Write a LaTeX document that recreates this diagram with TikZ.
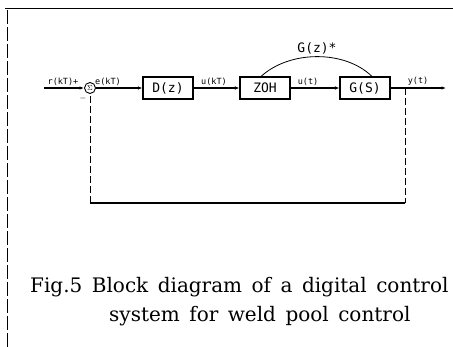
\documentclass[tikz,border=0pt]{standalone}
\usepackage{fontspec}
\setmainfont{DejaVu Serif}
\setmonofont{DejaVu Sans Mono}
\usetikzlibrary{arrows.meta}
% caption type: large serif with wide word spacing
\newcommand\figcapfont{\fontsize{20}{24}\selectfont\spaceskip=9.5pt plus 1pt\relax}
\begin{document}
\begin{tikzpicture}[x=1pt,y=-1pt,
  blk/.style={draw,line width=1.1pt,minimum width=50pt,minimum height=22pt,inner sep=0pt,font=\ttfamily\fontsize{13}{15}\selectfont},
  sig/.style={font=\ttfamily\fontsize{8.5}{10}\selectfont,inner sep=0.5pt},
  wire/.style={line width=1.1pt},
  arr/.style={wire,-{Latex[length=4.5pt,width=3.5pt]}},
  fb/.style={line width=0.8pt,dash pattern=on 7pt off 3pt},
  captext/.style={font=\figcapfont,anchor=base west,inner sep=0pt}]
\useasboundingbox (0,0) rectangle (453,347);
% frame fragments
\draw[line width=0.8pt] (5,8) -- (453,8);
\draw[line width=0.8pt,dash pattern=on 14pt off 3pt] (7,10) -- (7,347);
% blocks
\node[draw,circle,line width=0.9pt,inner sep=0pt,minimum size=11pt,font=\fontsize{7}{8}\selectfont] (sum) at (90,88) {$\Sigma$};
\node[blk] (D) at (168,88) {D(z)};
\node[blk] (zoh) at (265,88) {ZOH};
\node[blk] (G) at (365,88) {G(S)};
\coordinate (in) at (44,88);
\coordinate (out) at (446,88);
\coordinate (tap) at (405,88);
\coordinate (bl) at (90,203);
\coordinate (br) at (405,203);
% forward path
\draw[arr] (in) -- (sum);
\draw[arr] (sum) -- (D);
\draw[arr] (D) -- (zoh);
\draw[arr] (zoh) -- (G);
\draw[arr] (G) -- (out);
% feedback path
\draw[fb] (tap) -- (br);
\draw[wire] (br) -- (bl);
\draw[fb] (bl) -- (sum.south);
% G(z)* bracket arc
\draw[line width=0.8pt] ([xshift=-4pt]zoh.north) .. controls (290,50) and (345,50) .. ([xshift=7pt]G.north);
% signal labels
\node[sig,anchor=south] at (63,86) {r(kT)+};
\node[sig,anchor=south] at (108,86) {e(kT)};
\node[sig,anchor=south] at (214,86) {u(kT)};
\node[sig,anchor=south] at (308,86) {u(t)};
\node[sig,anchor=south] at (418,86) {y(t)};
\node[sig] at (83,99) {$-$};
\node[font=\ttfamily\fontsize{13}{15}\selectfont] at (317,48) {G(z)*};
% caption
\node[captext] (c1) at (30,293) {Fig.5 Block diagram of a digital control};
\node[captext] (c2) at (109,322) {system for weld pool control};
\end{tikzpicture}
\end{document}
